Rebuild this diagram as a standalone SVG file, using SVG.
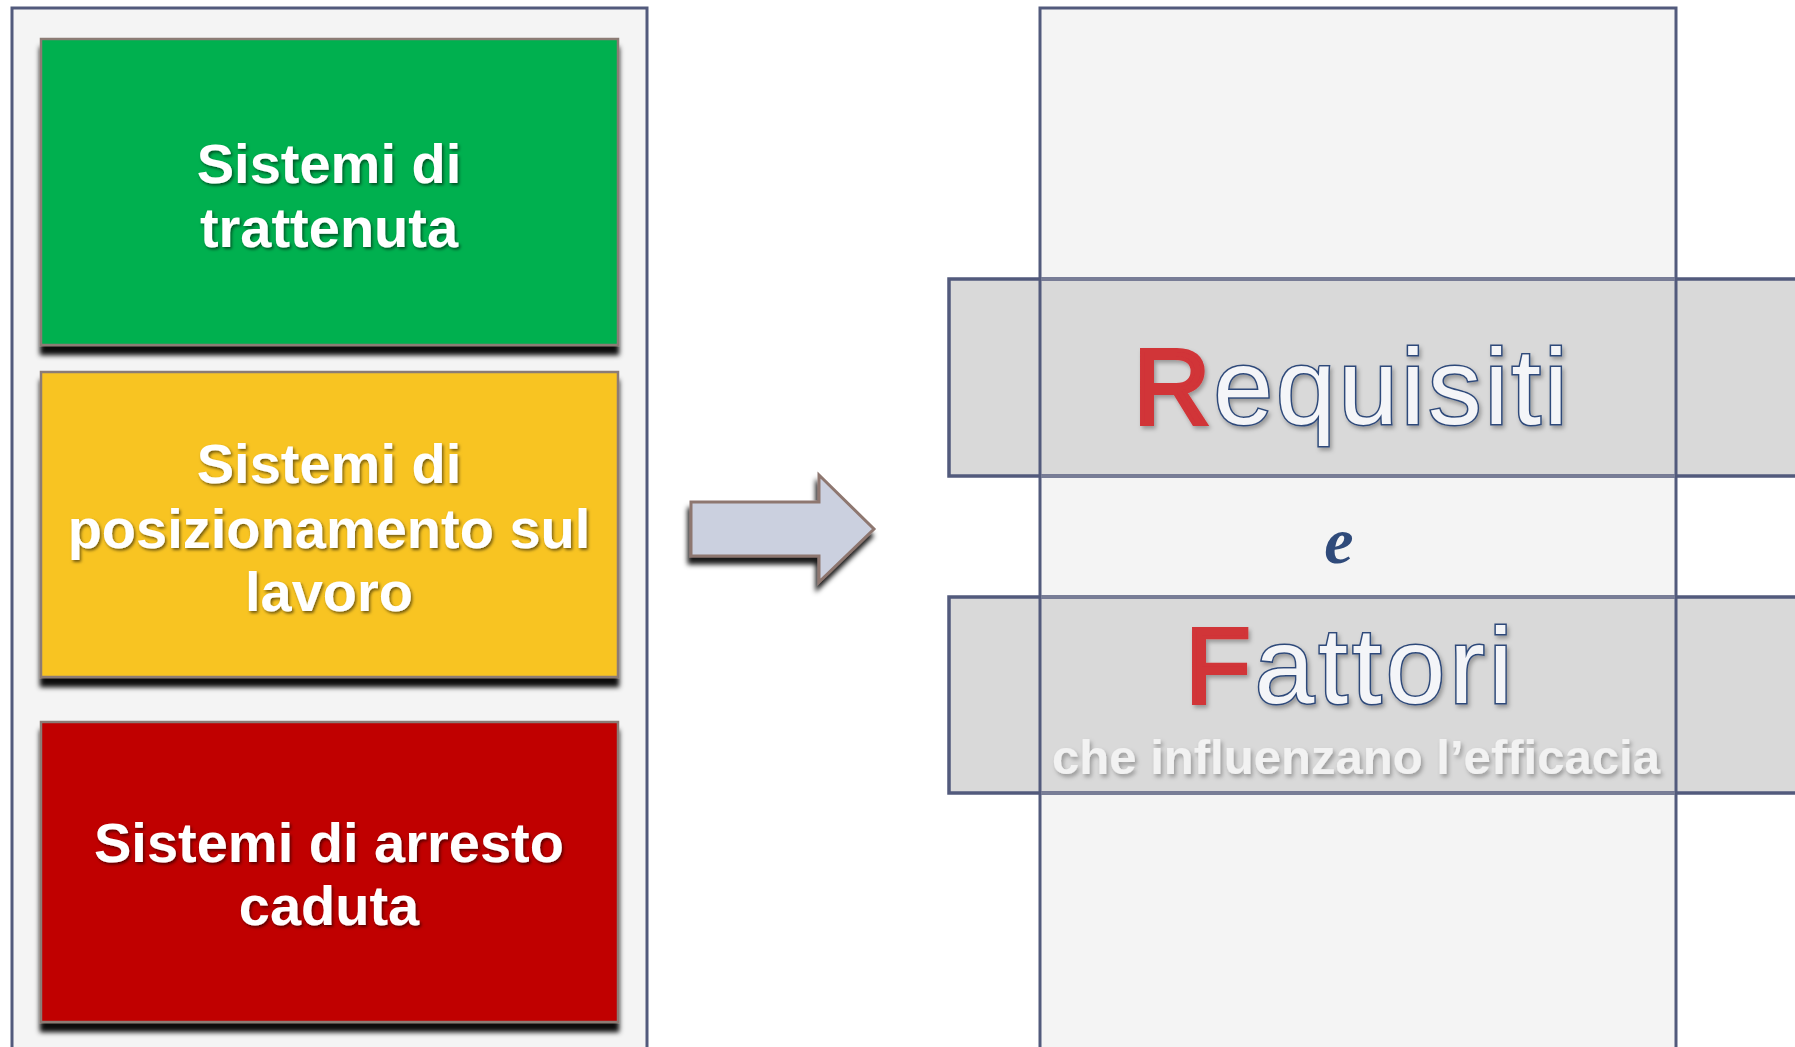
<svg xmlns="http://www.w3.org/2000/svg" width="1795" height="1047" viewBox="0 0 1795 1047">
  <defs>
    <filter id="boxShadow" x="-5%" y="-5%" width="110%" height="120%">
      <feDropShadow dx="0" dy="9" stdDeviation="2.5" flood-color="#000" flood-opacity="0.95"/>
    </filter>
    <filter id="arrowShadow" x="-10%" y="-10%" width="125%" height="130%">
      <feDropShadow dx="-2" dy="7" stdDeviation="2.5" flood-color="#000" flood-opacity="0.9"/>
    </filter>
    <filter id="txtShadow" x="-5%" y="-10%" width="110%" height="130%">
      <feDropShadow dx="1.5" dy="2" stdDeviation="1.5" flood-color="#000" flood-opacity="0.55"/>
    </filter>
    <filter id="softShadow" x="-5%" y="-10%" width="110%" height="130%">
      <feDropShadow dx="2" dy="3" stdDeviation="2" flood-color="#000" flood-opacity="0.3"/>
    </filter>
  </defs>
  <style>
    .panel { fill: #f4f4f4; stroke: #525a7c; stroke-width: 3; }
    .box { stroke: #8c7b74; stroke-width: 2.5; }
    .boxtxt { font-family: "Liberation Sans", Arial, sans-serif; font-weight: bold; font-size: 56px; fill: #ffffff; text-anchor: middle; }
    .band { fill: #d9d9d9; stroke: #525a7c; stroke-width: 3.5; }
    .big { font-family: "Liberation Sans", Arial, sans-serif; font-size: 107px; text-anchor: middle; }
    .outl { fill: #f4f5f8; stroke: #2f4a7a; stroke-width: 3; paint-order: stroke; }
    .red { fill: #d13438; stroke: #d13438; stroke-width: 4; }
  </style>
  <rect width="1795" height="1047" fill="#ffffff"/>

  <!-- left panel -->
  <g id="left-panel">
    <rect class="panel" x="12" y="8" width="635" height="1050"/>
  </g>

  <g id="node-trattenuta">
    <rect class="box" x="41" y="39" width="577" height="306" fill="#00b050" filter="url(#boxShadow)"/>
    <text class="boxtxt" filter="url(#txtShadow)"><tspan x="329" y="183">Sistemi di</tspan><tspan x="329" y="247">trattenuta</tspan></text>
  </g>

  <g id="node-posizionamento">
    <rect class="box" x="41" y="372" width="577" height="305" fill="#f8c424" filter="url(#boxShadow)"/>
    <text class="boxtxt" filter="url(#txtShadow)"><tspan x="329" y="483">Sistemi di</tspan><tspan x="329" y="548">posizionamento sul</tspan><tspan x="329" y="611">lavoro</tspan></text>
  </g>

  <g id="node-arresto">
    <rect class="box" x="41" y="722" width="577" height="300" fill="#c00000" filter="url(#boxShadow)"/>
    <text class="boxtxt" filter="url(#txtShadow)"><tspan x="329" y="862">Sistemi di arresto</tspan><tspan x="329" y="925">caduta</tspan></text>
  </g>

  <!-- connectors -->
  <g id="connectors">
    <path d="M691 502 L819 502 L819 475 L874 529 L819 582 L819 556 L691 556 Z" fill="#cbd0df" stroke="#8e7770" stroke-width="3" stroke-linejoin="miter" filter="url(#arrowShadow)"/>
  </g>

  <!-- right column -->
  <g id="right-column">
    <rect x="1040" y="8" width="636" height="1050" fill="#f4f4f4"/>
  </g>

  <g id="band-requisiti">
    <rect class="band" x="949" y="279" width="860" height="197"/>
    <text class="big" x="1352" y="424" filter="url(#softShadow)" letter-spacing="3"><tspan class="red">R</tspan><tspan class="outl">equisiti</tspan></text>
  </g>

  <g id="label-e">
    <text x="1339" y="563" font-family="'Liberation Serif', 'DejaVu Serif', serif" font-style="italic" font-weight="bold" font-size="66" fill="#2f4a7a" text-anchor="middle">e</text>
  </g>

  <g id="band-fattori">
    <rect class="band" x="949" y="597" width="860" height="196"/>
    <text class="big" x="1351" y="703" filter="url(#softShadow)" letter-spacing="4"><tspan class="red">F</tspan><tspan class="outl">attori</tspan></text>
    <text x="1356" y="774" font-family="'Liberation Sans', Arial, sans-serif" font-weight="bold" font-size="48" fill="#f2f2f2" text-anchor="middle" textLength="608" lengthAdjust="spacingAndGlyphs" filter="url(#softShadow)">che influenzano l’efficacia</text>
  </g>

  <!-- column outline over the bands -->
  <g id="right-column-outline">
    <rect x="1040" y="8" width="636" height="1050" fill="none" stroke="#525a7c" stroke-width="3"/>
    <line x1="1041" y1="279" x2="1675" y2="279" stroke="#787d96" stroke-width="3.5"/>
    <line x1="1041" y1="476" x2="1675" y2="476" stroke="#787d96" stroke-width="3.5"/>
    <line x1="1041" y1="597" x2="1675" y2="597" stroke="#787d96" stroke-width="3.5"/>
    <line x1="1041" y1="793" x2="1675" y2="793" stroke="#787d96" stroke-width="3.5"/>
  </g>
</svg>
